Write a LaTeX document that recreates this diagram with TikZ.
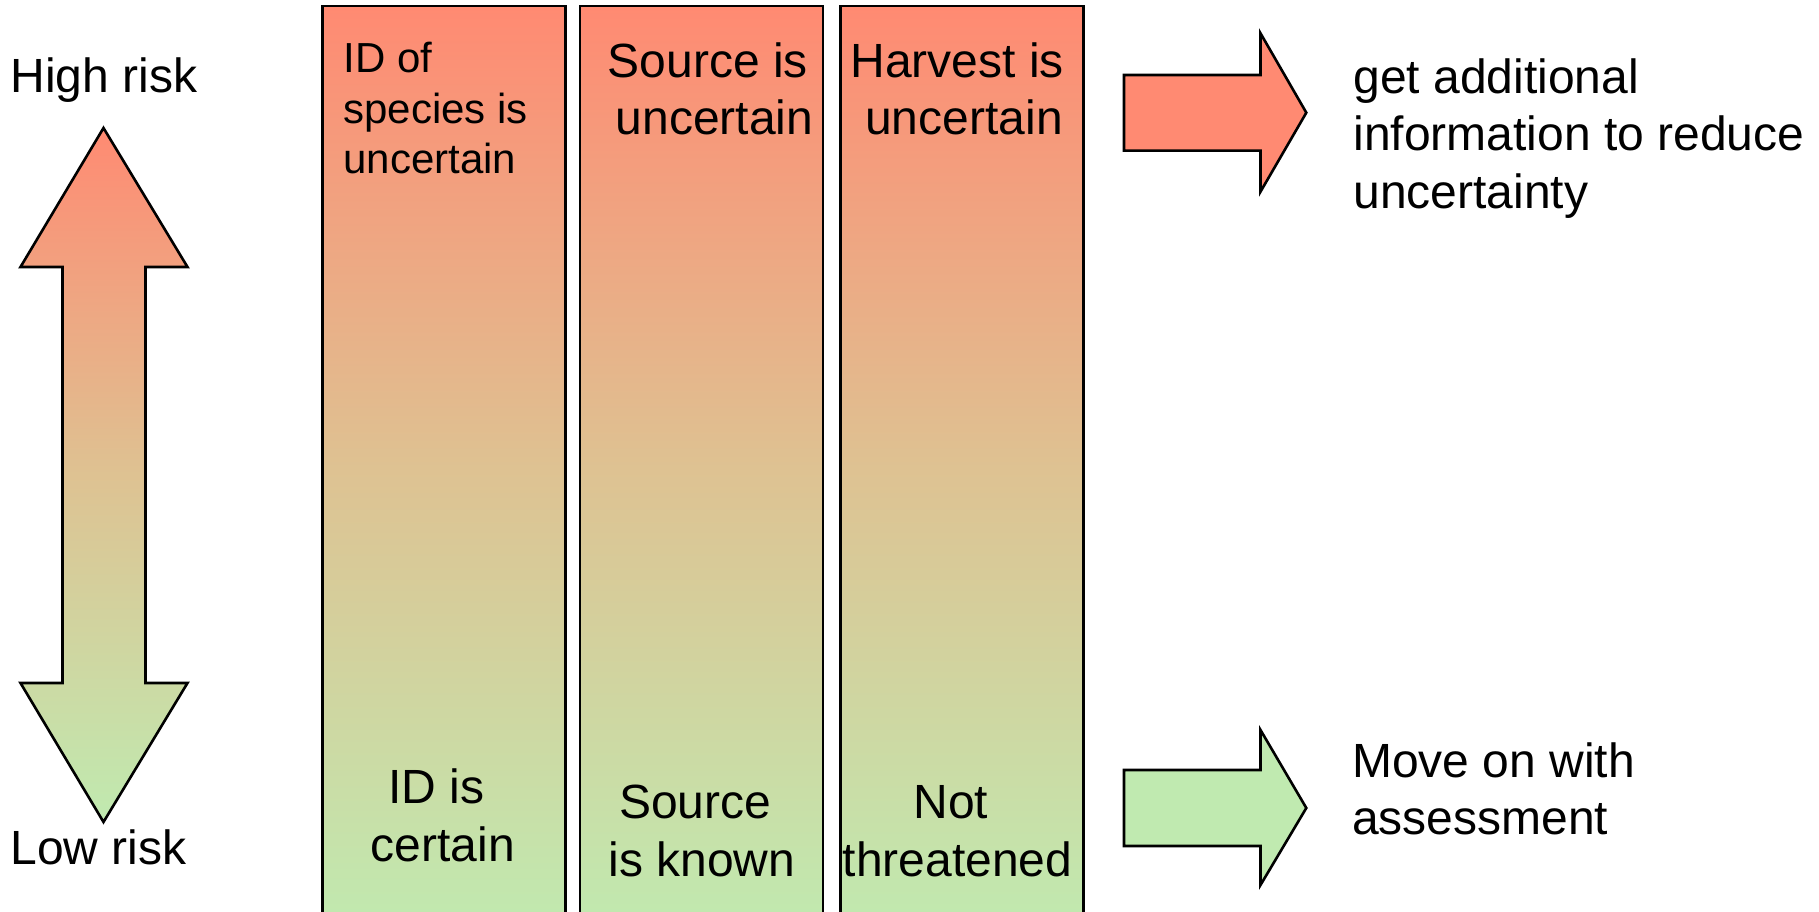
\documentclass[tikz,border=0pt]{standalone}
\usepackage{fontspec}
\setmainfont{Liberation Sans}
\definecolor{salm}{RGB}{255,138,114}
\definecolor{tanc}{RGB}{222,194,146}
\definecolor{grn}{RGB}{192,234,176}
\begin{document}
\begin{tikzpicture}[x=1pt,y=1pt,
  colbox/.style={draw=black,line width=2.8pt,top color=salm,bottom color=grn,middle color=tanc,
    minimum width=243pt,minimum height=926pt,anchor=north west,inner sep=0pt,outer sep=0pt},
  grad/.style={draw=black,line width=2.6pt,top color=salm,bottom color=grn,middle color=tanc},
  big/.style={font=\fontsize{48}{57.6}\selectfont,inner sep=0pt,outer sep=0pt},
  mid/.style={font=\fontsize{42}{50.5}\selectfont,inner sep=0pt,outer sep=0pt},
  bot/.style={font=\fontsize{48}{58}\selectfont,inner sep=0pt,outer sep=0pt,align=center,anchor=base}
]
\useasboundingbox (0,0) rectangle (1819,912);
\clip (0,0) rectangle (1819,912);

% columns
\node[colbox] (c1) at (322.6,906) {};
\node[colbox] (c2) at (579.9,906) {};
\node[colbox] (c3) at (840.8,906) {};

% double arrow
\shade[grad] (103.5,784) -- (187.5,645) -- (145.5,645) -- (145.5,229) -- (187.5,229)
  -- (103.5,90) -- (20.5,229) -- (62.5,229) -- (62.5,645) -- (20.5,645) -- cycle;

% right arrows
\draw[line width=2.6pt,fill=salm] (1124,837) -- (1260.5,837) -- (1260.5,878.7) -- (1306.3,799.3)
  -- (1260.5,720.3) -- (1260.5,761.3) -- (1124,761.3) -- cycle;
\draw[line width=2.6pt,fill=grn] (1124,142) -- (1260.5,142) -- (1260.5,182) -- (1306.3,104)
  -- (1260.5,27) -- (1260.5,66) -- (1124,66) -- cycle;

% left labels
\node[big,anchor=base west] (hi) at (10.5,819) {High risk};
\node[big,anchor=base west] (lo) at (10.5,47) {Low risk};

% column headers (anchor base = last line)
\node[mid,anchor=base west,align=left] (t1) at (343.5,738) {ID of\\species is\\uncertain};
\node[big,anchor=base,align=center] (t2) at (714.5,777) {Source is\kern0.278em\\uncertain};
\node[big,anchor=base,align=center] (t3) at (964,777) {Harvest is\kern0.278em\\uncertain};

% column footers
\node[bot] (b1) at (443,50) {ID is\kern0.278em\\certain};
\node[bot] (b2) at (702,35) {Source\kern0.278em\\is known};
\node[bot] (b3) at (957.5,35) {Not\kern0.278em\\threatened};

% right texts
\node[big,anchor=base west,align=left] (r1) at (1353.5,703.7) {get additional\\information to reduce\\uncertainty};
\node[big,anchor=base west,align=left] (r2) at (1352,77) {Move on with\\assessment};
\end{tikzpicture}
\end{document}
